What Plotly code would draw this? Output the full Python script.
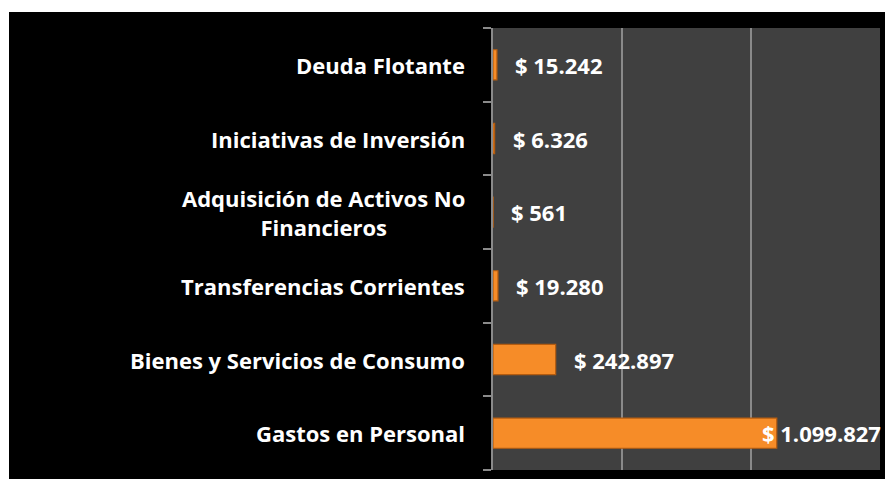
import plotly.graph_objects as go

categories = [
    "Gastos en Personal",
    "Bienes y Servicios de Consumo",
    "Transferencias Corrientes",
    "Adquisición de Activos No<br>Financieros",
    "Iniciativas de Inversión",
    "Deuda Flotante",
]
values = [1099827, 242897, 19280, 561, 6326, 15242]
value_labels = ["$ 1.099.827", "$ 242.897", "$ 19.280", "$ 561", "$ 6.326", "$ 15.242"]
x_ticks = [0, 500000, 1000000, 1500000]

# page body has an 8px margin, so the figure is sized to fit the window
W, H = 885, 471
L, R, T, B = 485, 13, 20, 9
pw, ph = W - L - R, H - T - B

FONT = "Open Sans"
label_shift = [-17, 16, 16, 16, 16, 16]

fig = go.Figure()
fig.add_trace(go.Bar(
    y=categories, x=values, orientation="h",
    marker=dict(color="#F68C28", line=dict(color="#B45C10", width=1.2)),
    hoverinfo="skip",
))

annotations = []
for c in categories:
    annotations.append(dict(
        x=0, y=c, xref="x", yref="y", text=c, showarrow=False,
        xanchor="right", yanchor="middle", align="center", xshift=-26,
        font=dict(family=FONT, size=22, color="white", weight=700),
    ))
for c, v, t, s in zip(categories, values, value_labels, label_shift):
    annotations.append(dict(
        x=v, y=c, xref="x", yref="y", text=t, showarrow=False,
        xanchor="left", yanchor="middle", xshift=s, yshift=0,
        font=dict(family=FONT, size=22, color="white", weight=700),
    ))

shapes = [
    dict(type="rect", xref="paper", yref="paper", layer="below",
         x0=-L / pw - 0.01, x1=(1 - L) / pw, y0=-B / ph - 0.01, y1=(ph + T) / ph + 0.01,
         fillcolor="white", line=dict(width=0)),
    dict(type="rect", xref="paper", yref="paper", layer="below",
         x0=-L / pw - 0.01, x1=(W - L) / pw + 0.01, y0=(ph + T - 4) / ph, y1=(ph + T) / ph + 0.01,
         fillcolor="white", line=dict(width=0)),
]

fig.update_layout(
    width=W, height=H,
    margin=dict(l=L, r=R, t=T, b=B, pad=0),
    paper_bgcolor="black", plot_bgcolor="#404040",
    bargap=0.59, showlegend=False,
    annotations=annotations, shapes=shapes,
    xaxis=dict(range=[0, 1500000], tickvals=x_ticks, showticklabels=False,
               showgrid=True, gridcolor="#8A8A8A", gridwidth=1.5,
               zeroline=False, showline=False, fixedrange=True),
    yaxis=dict(categoryorder="array", categoryarray=categories,
               showticklabels=False, showgrid=False, zeroline=False,
               showline=True, linecolor="#8A8A8A", linewidth=1.5,
               ticks="outside", tickson="boundaries", ticklen=8,
               tickcolor="#8A8A8A", tickwidth=1.5, fixedrange=True),
)

fig.write_html("out.html")
